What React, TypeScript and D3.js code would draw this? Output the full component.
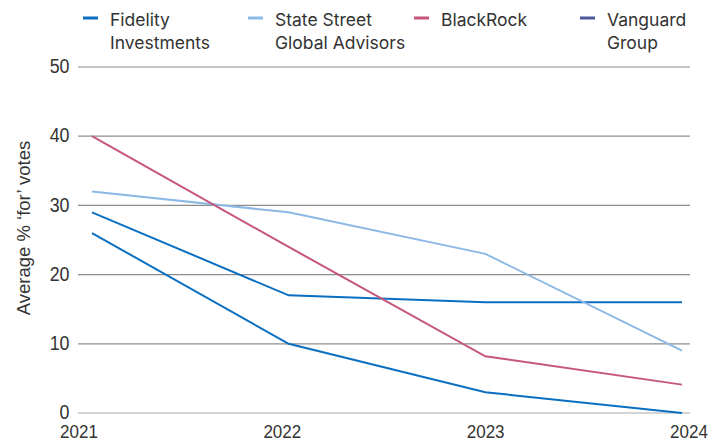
import React from "react";
import * as d3 from "d3";

const years = ["2021", "2022", "2023", "2024"];
const fidelityA = [29, 17, 16, 16];
const fidelityB = [26, 10, 3, 0];
const stateStreet = [32, 29, 23, 9];
const blackRock = [40, 24, 8.2, 4.1];
const yTicks = [0, 10, 20, 30, 40, 50];

const legendNames = [["Fidelity", "Investments"], ["State Street", "Global Advisors"], ["BlackRock"], ["Vanguard", "Group"]];
const legendColors = ["#0a6fc0", "#8cb8e6", "#c5557f", "#4d579b"];
const legendX = [83, 248, 414, 580];

const series = [
  { values: fidelityA, color: "#0a6fc0" },
  { values: fidelityB, color: "#0a6fc0" },
  { values: stateStreet, color: "#8cb8e6" },
  { values: blackRock, color: "#c5557f" },
];

const W = 723, H = 441;
const TICKFONT = "'Liberation Sans', Arial, sans-serif";
const LEGFONT = "Inter, 'Noto Sans', sans-serif";

export default function App() {
  const x = d3.scalePoint<string>().domain(years).range([92, 682]);
  const xLab = d3.scalePoint<string>().domain(years).range([79, 689]);
  const y = d3.scaleLinear().domain([0, 50]).range([413, 67]);
  const line = d3.line<number>().x((_, i) => x(years[i])!).y((d) => y(d));
  return (
    <svg width={W} height={H} style={{ position: "absolute", left: 0, top: 0, background: "#fff" }} fontFamily={TICKFONT}>
      {yTicks.map((t) => (
        <g key={t}>
          <line x1={78} x2={690} y1={y(t)} y2={y(t)} stroke={t === 0 ? "#aaa" : "#8c8c8c"} strokeWidth={1.2} />
          <text transform={`translate(69.5,${y(t) - 1}) scale(0.87,1)`} dy="0.35em" textAnchor="end" fontSize={20.5} fill="#333">{t}</text>
        </g>
      ))}
      {years.map((yr) => (
        <text key={yr} transform={`translate(${xLab(yr)},438) scale(0.92,1)`} textAnchor="middle" fontSize={18.5} fill="#333">{yr}</text>
      ))}
      <text transform="translate(30,228) rotate(-90)" textAnchor="middle" fontSize={18.5} fill="#333">Average % ‘for’ votes</text>
      {series.map((s, i) => (
        <path key={i} d={line(s.values)!} fill="none" stroke={s.color} strokeWidth={2} />
      ))}
      {legendNames.map((n, i) => (
        <g key={i}>
          <line x1={legendX[i]} x2={legendX[i] + 15} y1={18} y2={18} stroke={legendColors[i]} strokeWidth={3} />
          {n.map((t, j) => (
            <text key={j} x={legendX[i] + 27} y={26 + j * 23} fontSize={17.5} fontFamily={LEGFONT} fill="#333">{t}</text>
          ))}
        </g>
      ))}
    </svg>
  );
}
